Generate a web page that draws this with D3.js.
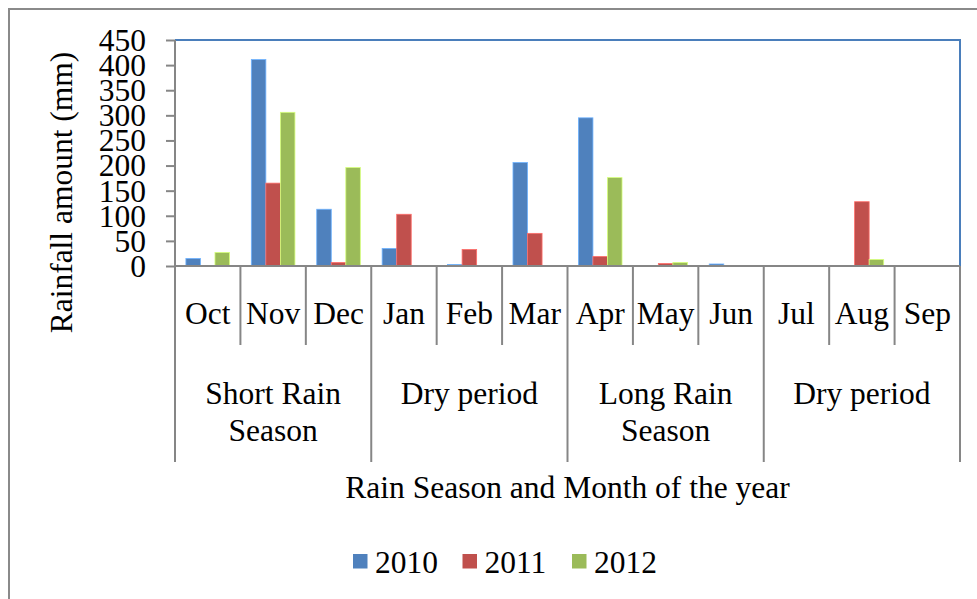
<!DOCTYPE html>
<html>
<head>
<meta charset="utf-8">
<script src="https://cdn.jsdelivr.net/npm/d3@7"></script>
<style>
  body { margin: 0; background: #fff; }
  text { font-family: "Liberation Serif", "Times New Roman", serif; fill: #000; }
</style>
</head>
<body>
<svg id="chart" width="977" height="599"></svg>
<script>
const months = ['Oct', 'Nov', 'Dec', 'Jan', 'Feb', 'Mar', 'Apr', 'May', 'Jun', 'Jul', 'Aug', 'Sep'];
const years = ['2010', '2011', '2012'];
const rain2010 = [15, 411, 113, 35, 3, 206, 295, 0, 4, 0, 0, 0];
const rain2011 = [0, 165, 7, 103, 33, 65, 19, 5, 0, 0, 128, 0];
const rain2012 = [27, 306, 196, 0, 0, 0, 176, 7, 0, 0, 13, 0];
const seasonLabels = [['Short Rain', 'Season'], ['Dry period'], ['Long Rain', 'Season'], ['Dry period']];
const seasonFirst = ['Oct', 'Jan', 'Apr', 'Jul'];
const seasonLast = ['Dec', 'Mar', 'Jun', 'Sep'];
const yTicks = [0, 50, 100, 150, 200, 250, 300, 350, 400, 450];
const colors = ['#4f81bd', '#c0504d', '#9bbb59'];

const seriesValues = [rain2010, rain2011, rain2012];
const rows = months.map((m, i) => ({ month: m, values: years.map((yr, j) => ({ year: yr, value: seriesValues[j][i] })) }));

const plot = { left: 175, right: 960, top: 40, bottom: 266 };
const axisGray = '#868686';
const fontSize = 31.5;

const svg = d3.select('#chart');

// outer chart frame
svg.append('rect')
    .attr('x', 9).attr('y', 9)
    .attr('width', 1000).attr('height', 620)
    .attr('fill', '#fff')
    .attr('stroke', '#8a8a8a')
    .attr('stroke-width', 2);

const x = d3.scaleBand()
    .domain(months)
    .range([plot.left, plot.right])
    .padding(0);

const xInner = d3.scaleBand()
    .domain(years)
    .range([0, x.bandwidth()])
    .paddingInner(0)
    .paddingOuter(0.75);

const y = d3.scaleLinear()
    .domain([0, 450])
    .range([plot.bottom, plot.top]);

const color = d3.scaleOrdinal().domain(years).range(colors);

// plot border (top and right in blue)
svg.append('path')
    .attr('d', `M${plot.left},${y(450)}H${plot.right}V${y(0)}`)
    .attr('fill', 'none')
    .attr('stroke', '#4a7ebb')
    .attr('stroke-width', 2);

// bars
svg.append('g')
    .selectAll('g')
    .data(rows)
    .join('g')
        .attr('transform', d => `translate(${x(d.month)},0)`)
    .selectAll('rect')
    .data(d => d.values.filter(v => v.value > 0))
    .join('rect')
        .attr('x', d => xInner(d.year))
        .attr('width', xInner.bandwidth())
        .attr('y', d => y(d.value))
        .attr('height', d => y(0) - y(d.value))
        .attr('fill', d => color(d.year))
        .attr('stroke', d => d3.color(color(d.year)).brighter(0.9))
        .attr('stroke-width', 0.8);

// y axis
const yAxis = svg.append('g')
    .attr('transform', `translate(${plot.left},0)`)
    .call(d3.axisLeft(y).tickValues(yTicks).tickSize(9).tickPadding(20));
yAxis.select('.domain').remove();
yAxis.selectAll('.tick line').attr('stroke', axisGray).attr('stroke-width', 2);
yAxis.selectAll('.tick text')
    .attr('font-family', '"Liberation Serif", "Times New Roman", serif')
    .attr('font-size', fontSize)
    .attr('dy', '0.33em')
    .attr('fill', '#000');

// axis lines
svg.append('line')
    .attr('x1', plot.left).attr('x2', plot.right)
    .attr('y1', y(0)).attr('y2', y(0))
    .attr('stroke', axisGray).attr('stroke-width', 2);

const monthTickBottom = 345;
const seasonTickBottom = 462;
const seasonEdges = seasonFirst.map(m => x(m)).concat([plot.right]);

svg.append('g')
    .selectAll('line')
    .data(months.slice(1).filter(m => !seasonFirst.includes(m)))
    .join('line')
        .attr('x1', d => x(d)).attr('x2', d => x(d))
        .attr('y1', y(0)).attr('y2', monthTickBottom)
        .attr('stroke', axisGray).attr('stroke-width', 2);

svg.append('g')
    .selectAll('line')
    .data(seasonEdges)
    .join('line')
        .attr('x1', d => d).attr('x2', d => d)
        .attr('y1', d => (d === plot.left ? plot.top : y(0))).attr('y2', seasonTickBottom)
        .attr('stroke', axisGray).attr('stroke-width', 2);

// month labels
svg.append('g')
    .selectAll('text')
    .data(months)
    .join('text')
        .attr('x', d => x(d) + x.bandwidth() / 2)
        .attr('y', 324)
        .attr('text-anchor', 'middle')
        .attr('font-size', fontSize)
        .text(d => d);

// season labels
const seasonText = svg.append('g')
    .selectAll('text')
    .data(seasonLabels.map((lines, i) => ({ lines, from: seasonFirst[i], to: seasonLast[i] })))
    .join('text')
        .attr('text-anchor', 'middle')
        .attr('font-size', fontSize);
seasonText.selectAll('tspan')
    .data(d => d.lines.map((l, k) => ({ l, k, cx: (x(d.from) + x(d.to) + x.bandwidth()) / 2 })))
    .join('tspan')
        .attr('x', d => d.cx)
        .attr('y', d => 404 + d.k * 37)
        .text(d => d.l);

// axis titles
svg.append('text')
    .attr('x', (plot.left + plot.right) / 2)
    .attr('y', 498)
    .attr('text-anchor', 'middle')
    .attr('font-size', fontSize)
    .text('Rain Season and Month of the year');

svg.append('text')
    .attr('transform', `translate(72,${(53 + 332) / 2}) rotate(-90)`)
    .attr('text-anchor', 'middle')
    .attr('font-size', fontSize)
    .text('Rainfall amount (mm)');

// legend
const legend = svg.append('g')
    .attr('transform', 'translate(353,554)')
    .selectAll('g')
    .data(years)
    .join('g')
        .attr('transform', (d, i) => `translate(${i * 109.5},0)`);
legend.append('rect')
    .attr('width', 14.5).attr('height', 14.5)
    .attr('fill', d => color(d));
legend.append('text')
    .attr('x', 22)
    .attr('y', 19)
    .attr('font-size', fontSize)
    .text(d => d);
</script>
</body>
</html>
